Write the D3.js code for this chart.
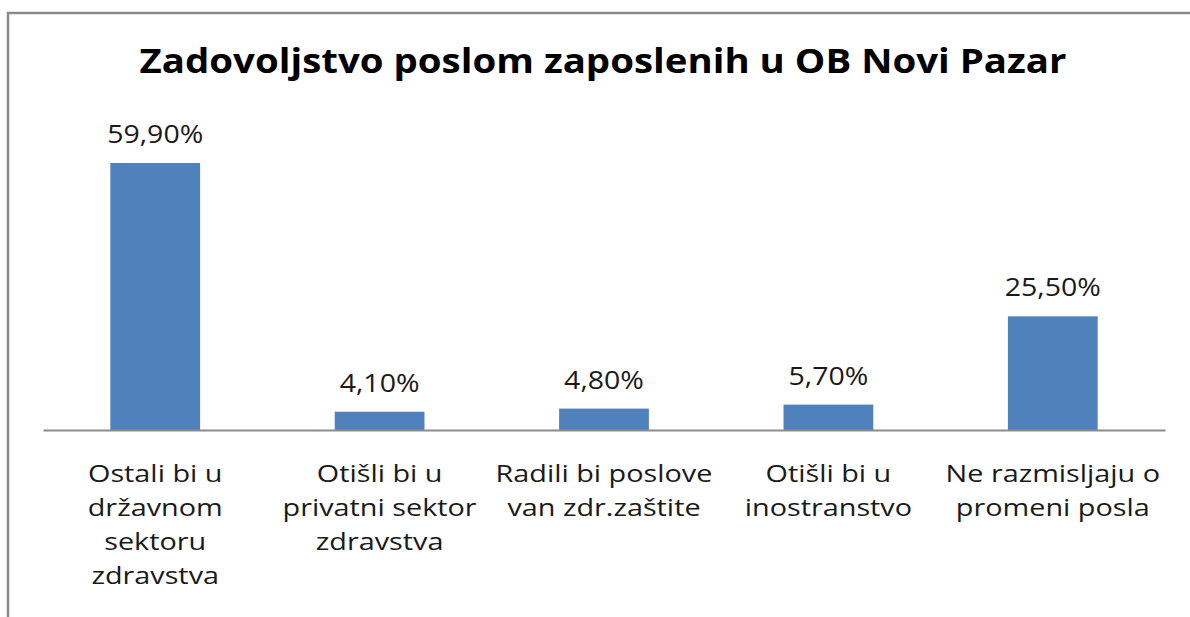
<!DOCTYPE html>
<html>
<head>
<meta charset="utf-8">
<title>Zadovoljstvo poslom</title>
<script src="https://d3js.org/d3.v7.min.js"></script>
<style>
  body { margin: 0; background: #fff; }
  svg text { font-family: "Open Sans", sans-serif; fill: #1a1a1a; }
  .title { font-weight: bold; font-size: 34px; fill: #000; }
  .val { font-size: 25px; }
  .cat { font-size: 24px; }
</style>
</head>
<body>
<div id="chart"></div>
<script>
// data
var categories = [
  ["Ostali bi u", "državnom", "sektoru", "zdravstva"],
  ["Otišli bi u", "privatni sektor", "zdravstva"],
  ["Radili bi poslove", "van zdr.zaštite"],
  ["Otišli bi u", "inostranstvo"],
  ["Ne razmisljaju o", "promeni posla"]
];
var values = [0.599, 0.041, 0.048, 0.057, 0.255];
var chartTitle = "Zadovoljstvo poslom zaposlenih u OB Novi Pazar";

var width = 1190, height = 617;
var margin = {left: 43, right: 25, top: 118, bottom: 187};

var svg = d3.select("#chart").append("svg")
    .attr("width", width)
    .attr("height", height);

// chart frame (cropped on right and bottom)
svg.append("path")
    .attr("d", "M8,620V13H1200")
    .attr("fill", "none")
    .attr("stroke", "#8a8a8a")
    .attr("stroke-width", 2.5);

// the original picture is stretched sideways, so the text is too
svg.append("text")
    .attr("class", "title")
    .attr("text-anchor", "middle")
    .attr("transform", "translate(603,73) scale(1.13,1)")
    .text(chartTitle);

var x = d3.scaleBand()
    .domain(d3.range(values.length))
    .range([margin.left, width - margin.right])
    .paddingInner(0.6)
    .paddingOuter(0.3);

var y = d3.scaleLinear()
    .domain([0, 0.7])
    .range([height - margin.bottom, margin.top]);

var fmt = d3.formatLocale({decimal: ",", thousands: ".", grouping: [3], currency: ["", ""]}).format(".2%");

svg.selectAll("rect.bar")
    .data(values)
    .enter().append("rect")
      .attr("class", "bar")
      .attr("x", function(d, i) { return x(i); })
      .attr("y", function(d) { return y(d); })
      .attr("width", x.bandwidth())
      .attr("height", function(d) { return y(0) - y(d); })
      .attr("fill", "#4f81bd");

// baseline axis
var xAxis = svg.append("g")
    .attr("transform", "translate(0," + y(0) + ")")
    .call(d3.axisBottom(x).tickSize(0).tickFormat(""));
xAxis.select(".domain").attr("stroke", "#8c8c8c").attr("stroke-width", 2);

svg.selectAll("text.val")
    .data(values)
    .enter().append("text")
      .attr("class", "val")
      .attr("text-anchor", "middle")
      .attr("transform", function(d, i) {
        return "translate(" + (x(i) + x.bandwidth() / 2) + "," + (y(d) - 20) + ") scale(1.14,1)";
      })
      .text(function(d) { return fmt(d); });

var cat = svg.selectAll("text.cat")
    .data(categories)
    .enter().append("text")
      .attr("class", "cat")
      .attr("text-anchor", "middle")
      .attr("transform", function(d, i) {
        return "translate(" + (x(i) + x.bandwidth() / 2) + "," + (y(0) + 52) + ") scale(1.2,1)";
      });

cat.selectAll("tspan")
    .data(function(d) { return d; })
    .enter().append("tspan")
      .attr("x", 0)
      .attr("dy", function(d, i) { return i ? 34 : 0; })
      .text(function(d) { return d; });
</script>
</body>
</html>
